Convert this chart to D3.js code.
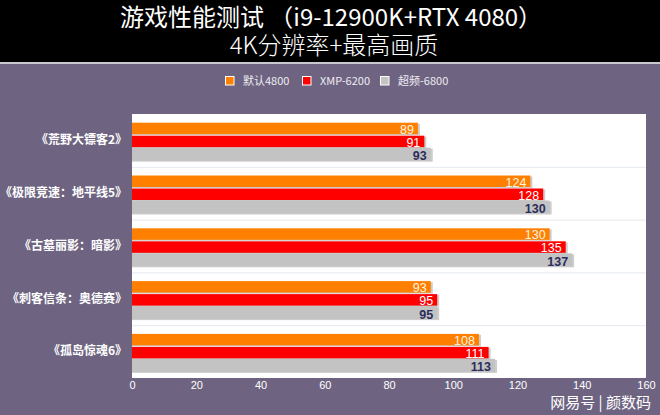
<!DOCTYPE html>
<html><head><meta charset="utf-8">
<script src="https://cdn.jsdelivr.net/npm/d3@7"></script>
<style>
html,body{margin:0;padding:0;background:#6e6481;}
svg{display:block;}
</style></head>
<body>
<svg id="c" width="660" height="415"></svg>
<script>
const categories = ["《荒野大镖客2》","《极限竞速：地平线5》","《古墓丽影：暗影》","《刺客信条：奥德赛》","《孤岛惊魂6》"];
const seriesNames = ["默认4800","XMP-6200","超频-6800"];
const seriesDefault = [89,124,130,93,108];
const seriesXMP = [91,128,135,95,111];
const seriesOC = [93,130,137,95,113];
const xTicks = [0,20,40,60,80,100,120,140,160];
const titleLine1 = "游戏性能测试 （i9-12900K+RTX 4080）";
const titleLine2 = "4K分辨率+最高画质";
const watermark = "网易号 | 颜数码";

const colors = ["#ff8000","#ff0000","#c3c3c3"];
const labelColors = ["#fff3e0","#ffffff","#2a2d5a"];
const series = [seriesDefault, seriesXMP, seriesOC];

const svg = d3.select("#c");
const W = 660, H = 415;
svg.append("rect").attr("width",W).attr("height",H).attr("fill","#6e6481");
svg.append("rect").attr("width",W).attr("height",62).attr("fill","#000");
svg.append("rect").attr("y",62).attr("width",W).attr("height",2).attr("fill","#c8c8d0");

const cjk = "'Noto Sans CJK SC','Noto Sans',sans-serif";
svg.append("text").attr("x",331).attr("y",26).attr("text-anchor","middle")
  .attr("fill","#fff").attr("font-family",cjk).attr("font-size",24).attr("font-weight",400)
  .text(titleLine1);
svg.append("text").attr("x",334).attr("y",54).attr("text-anchor","middle")
  .attr("fill","#fff").attr("font-family",cjk).attr("font-size",24).attr("font-weight",300)
  .text(titleLine2);

// legend
const legendX = [225,302,380];
seriesNames.forEach((n,i)=>{
  const g = svg.append("g").attr("transform",`translate(${legendX[i]},76)`);
  g.append("rect").attr("x",0.5).attr("y",0.5).attr("width",8.5).attr("height",8.5)
    .attr("fill",colors[i]).attr("stroke","#fff").attr("stroke-width",1);
  g.append("text").attr("x",18).attr("y",9).attr("fill","#eeecf2")
    .attr("font-family",cjk).attr("font-size",11).text(n);
});

const m = {l:132, r:646, t:114, b:378};
const x = d3.scaleLinear().domain([0,160]).range([m.l,m.r]);
const y = d3.scaleBand().domain(categories).range([m.t,m.b]);

svg.append("rect").attr("x",m.l).attr("y",m.t).attr("width",m.r-m.l).attr("height",m.b-m.t).attr("fill","#fff");
// separators
categories.slice(1).forEach(c=>{
  svg.append("line").attr("x1",m.l).attr("x2",m.r).attr("y1",y(c)+0.5).attr("y2",y(c)+0.5)
    .attr("stroke","#e4e8ee").attr("stroke-width",1);
});

const barOff = [8.7, 21.7, 33.7];
const barH = [11.5, 11.5, 13];
categories.forEach((c,ci)=>{
  series.forEach((s,si)=>{
    const v = s[ci];
    const y0 = y(c)+barOff[si];
    // shadow
    svg.append("rect").attr("x",x(0)).attr("y",y0+1).attr("width",x(v)-x(0)+2).attr("height",barH[si])
      .attr("fill","#c8c8c8").attr("opacity",0.9);
    svg.append("rect").attr("x",x(0)).attr("y",y0).attr("width",x(v)-x(0)).attr("height",barH[si])
      .attr("fill",colors[si]);
    svg.append("text").attr("x",x(v)-4).attr("y",y0+barH[si]-0.5).attr("text-anchor","end")
      .attr("fill",labelColors[si]).attr("font-family","'Liberation Sans',Arial,sans-serif")
      .attr("font-size",12.5).attr("font-weight",si===2?"bold":"normal").text(v);
  });
});

// category labels
const yAxis = d3.axisLeft(y).tickSize(0).tickPadding(5);
const ga = svg.append("g").attr("transform",`translate(${m.l},0)`).call(yAxis);
ga.select(".domain").remove();
ga.selectAll("text").attr("fill","#fff").attr("font-family",cjk).attr("font-size",12).attr("font-weight","bold");

const xAxis = d3.axisBottom(x).tickValues(xTicks).tickSize(0).tickPadding(3);
const gx = svg.append("g").attr("transform",`translate(0,${m.b})`).call(xAxis);
gx.select(".domain").remove();
gx.selectAll("text").attr("fill","#fff").attr("font-family","'Liberation Sans',Arial,sans-serif").attr("font-size",11);

svg.append("text").attr("x",651).attr("y",408).attr("text-anchor","end").attr("fill","#fff")
  .attr("font-family",cjk).attr("font-size",15).text(watermark);
</script>
</body></html>
